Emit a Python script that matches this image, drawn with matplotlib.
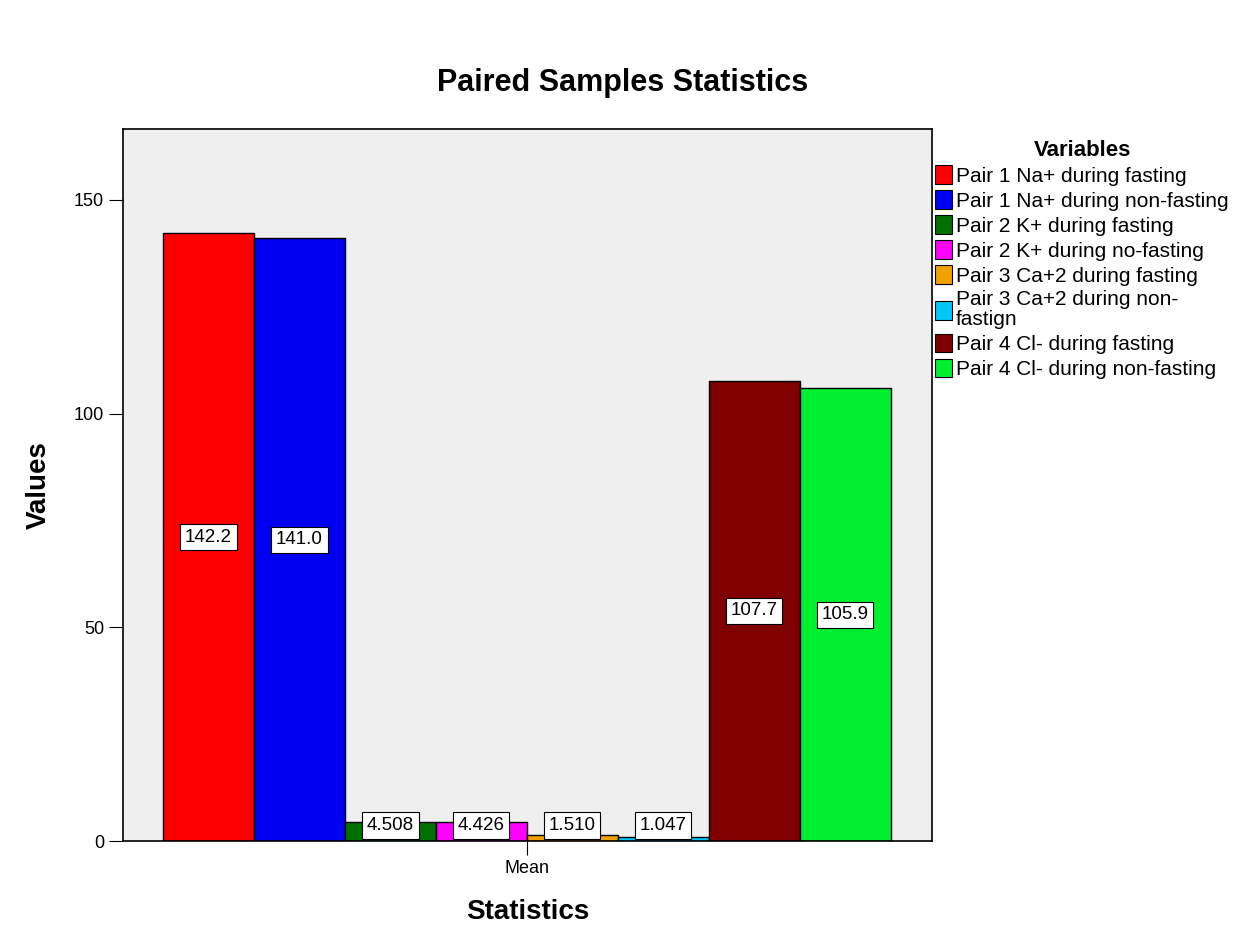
import matplotlib.pyplot as plt
from matplotlib.patches import Patch
import numpy as np

plt.rcParams['font.family'] = ['Liberation Sans', 'DejaVu Sans']

variables = ["Pair 1 Na+ during fasting", "Pair 1 Na+ during non-fasting",
             "Pair 2 K+ during fasting", "Pair 2 K+ during no-fasting",
             "Pair 3 Ca+2 during fasting", "Pair 3 Ca+2 during non-\nfastign",
             "Pair 4 Cl- during fasting", "Pair 4 Cl- during non-fasting"]
means = [142.2, 141.0, 4.508, 4.426, 1.510, 1.047, 107.7, 105.9]
labels = ["142.2", "141.0", "4.508", "4.426", "1.510", "1.047", "107.7", "105.9"]
colors = ["#ff0000", "#0000f0", "#007000", "#ff00ff",
          "#f0a000", "#00c8f8", "#800000", "#00f030"]

fig = plt.figure(figsize=(12.51, 9.38), dpi=100)
ax = fig.add_axes([0.0983, 0.1034, 0.647, 0.7591])
ax.set_facecolor("#efefef")

n = len(means)
width = 1.0
x = np.arange(n) - (n - 1) / 2
ax.bar(x, means, width=width, color=colors, edgecolor="black", linewidth=1.0, zorder=2)

# value labels: middle of bar, small bars get a floor so the box stays readable
for xi, v, lab in zip(x, means, labels):
    yl = max(v / 2, 3.6)
    ax.text(xi, yl, lab, ha="center", va="center", fontsize=13.5, zorder=3,
            bbox=dict(boxstyle="square,pad=0.25", facecolor="white", edgecolor="black", linewidth=0.8))

ax.set_xlim(-4.44, 4.46)
ax.set_ylim(0, 166.6)
ax.set_yticks([0, 50, 100, 150])
ax.set_xticks([0])
ax.set_xticklabels(["Mean"])
ax.tick_params(axis="both", labelsize=13, length=10, color="black")
for s in ax.spines.values():
    s.set_linewidth(1.2)

ax.set_ylabel("Values", fontsize=20, fontweight="bold", labelpad=16)
ax.set_xlabel("Statistics", fontsize=20, fontweight="bold", labelpad=16)
fig.suptitle("Paired Samples Statistics", fontsize=22, fontweight="bold", x=0.498, y=0.928)

handles = [Patch(facecolor=c, edgecolor="black", linewidth=0.8) for c in colors]
leg = fig.legend(handles, variables, title="Variables", loc="upper left",
                 bbox_to_anchor=(0.741, 0.86), frameon=False, fontsize=15,
                 title_fontproperties={"weight": "bold", "size": 16},
                 handlelength=0.8, handleheight=1.0, handletextpad=0.2,
                 labelspacing=0.22, borderaxespad=0.0)
for t in leg.get_texts():
    t.set_linespacing(1.05)

fig.savefig("out.png", dpi=100)
